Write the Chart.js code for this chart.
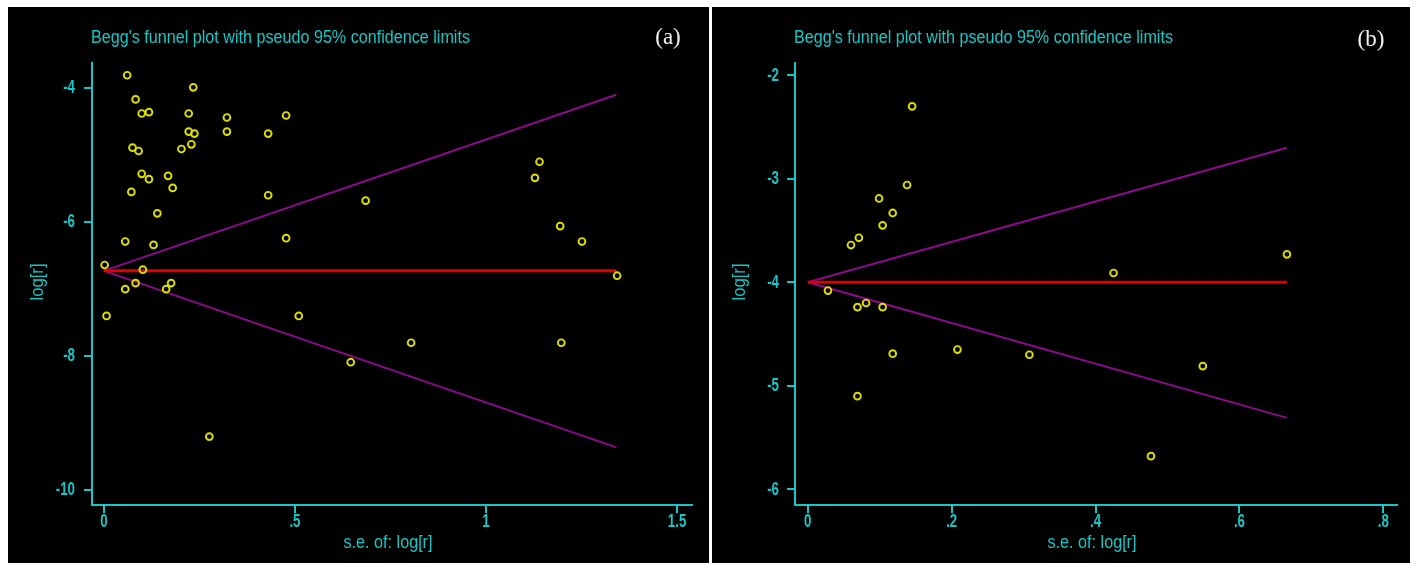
<!DOCTYPE html>
<html>
<head>
<meta charset="utf-8">
<script src="https://cdn.jsdelivr.net/npm/chart.js@4"></script>
<style>
body { margin: 0; background: #fff; width: 1416px; height: 565px; position: relative; overflow: hidden; }
.panel { position: absolute; top: 7px; height: 556px; background: #000; }
#panelA { left: 8px; width: 701px; }
#panelB { left: 712px; width: 698px; }
canvas { display: block; }
</style>
</head>
<body>
<div class="panel" id="panelA"><canvas id="chartA" width="701" height="556"></canvas></div>
<div class="panel" id="panelB"><canvas id="chartB" width="698" height="556"></canvas></div>
<script>
// panel (a) - studies: standard error vs log[r]
const seA = [0.061, 0.234, 0.083, 0.099, 0.118, 0.222, 0.322, 0.477, 0.222, 0.237, 0.322, 0.430,
  0.075, 0.091, 0.229, 0.203, 0.099, 0.118, 0.168, 0.180, 0.072, 0.430, 0.140, 0.056, 0.130, 0.477,
  0.002, 0.102, 0.083, 0.176, 0.056, 0.163, 0.007, 0.510, 0.804, 0.646, 0.276, 0.685, 1.140, 1.128,
  1.194, 1.251, 1.343, 1.197];
const logrA = [-3.81, -3.99, -4.17, -4.38, -4.36, -4.38, -4.44, -4.41, -4.65, -4.68, -4.65, -4.68,
  -4.89, -4.94, -4.84, -4.91, -5.28, -5.36, -5.31, -5.49, -5.55, -5.60, -5.87, -6.29, -6.34, -6.24,
  -6.64, -6.71, -6.91, -6.91, -7.00, -7.00, -7.40, -7.40, -7.80, -8.09, -9.20, -5.68, -5.10, -5.34,
  -6.06, -6.29, -6.80, -7.80];
const limitSeA = [0, 1.341];
const pooledA = [-6.727, -6.727];
const upperA = [-6.727, -4.10];
const lowerA = [-6.727, -9.36];
const xTicksA = [0, 0.5, 1, 1.5];
const xLabelsA = ['0', '.5', '1', '1.5'];
const yTicksA = [-10, -8, -6, -4];
const yLabelsA = ['-10', '-8', '-6', '-4'];

// panel (b)
const seB = [0.145, 0.138, 0.099, 0.118, 0.104, 0.071, 0.060, 0.425, 0.028, 0.081, 0.069, 0.104,
  0.118, 0.208, 0.308, 0.069, 0.666, 0.549, 0.477];
const logrB = [-2.30, -3.06, -3.19, -3.33, -3.45, -3.57, -3.64, -3.91, -4.08, -4.20, -4.24, -4.24,
  -4.69, -4.65, -4.70, -5.10, -3.73, -4.81, -5.68];
const limitSeB = [0, 0.666];
const pooledB = [-4.0, -4.0];
const upperB = [-4.0, -2.70];
const lowerB = [-4.0, -5.31];
const xTicksB = [0, 0.2, 0.4, 0.6, 0.8];
const xLabelsB = ['0', '.2', '.4', '.6', '.8'];
const yTicksB = [-6, -5, -4, -3, -2];
const yLabelsB = ['-6', '-5', '-4', '-3', '-2'];

const titleText = "Begg's funnel plot with pseudo 95% confidence limits";
const xTitle = 's.e. of: log[r]';
const yTitle = 'log[r]';

const CYAN = '#19c6c6';
const SANS = "'Liberation Sans', Arial, sans-serif";

function pts(xs, ys) {
  return xs.map((x, i) => ({ x: x, y: ys[i] }));
}

// stata text is narrow: squeeze to a given width
function fitText(ctx, text, x, y, width, align, rotate) {
  ctx.save();
  ctx.translate(x, y);
  if (rotate) ctx.rotate(-Math.PI / 2);
  let w = ctx.measureText(text).width;
  ctx.scale(width / w, 1);
  ctx.textBaseline = 'middle';
  ctx.textAlign = align;
  ctx.fillText(text, 0, 0);
  ctx.restore();
}

function squeezeText(ctx, text, x, y, sx, align) {
  ctx.save();
  ctx.translate(x, y);
  ctx.scale(sx, 1);
  ctx.textBaseline = 'middle';
  ctx.textAlign = align;
  ctx.fillText(text, 0, 0);
  ctx.restore();
}

function makeChart(id, o) {
  const textPlugin = {
    id: 'stataText',
    afterDraw(chart) {
      const ctx = chart.ctx;
      const a = chart.chartArea;
      const sx = chart.scales.x, sy = chart.scales.y;
      ctx.save();
      ctx.fillStyle = CYAN;
      ctx.font = '18px ' + SANS;
      fitText(ctx, titleText, a.left - 1, 31, 379, 'left');
      fitText(ctx, xTitle, (a.left + a.right) / 2 - 4, 536, 89, 'center');
      fitText(ctx, yTitle, o.yTitleX, (a.top + a.bottom) / 2 - 2, 37, 'center', true);

      // tick labels
      ctx.font = 'bold 19px ' + SANS;
      o.xTicks.forEach((v, i) => {
        squeezeText(ctx, o.xLabels[i], sx.getPixelForValue(v), 515, 0.7, 'center');
      });
      o.yTicks.forEach((v, i) => {
        squeezeText(ctx, o.yLabels[i], a.left - o.yLabelGap, sy.getPixelForValue(v), 0.7, 'right');
      });

      ctx.fillStyle = '#f2f2f2';
      ctx.font = '23px "Liberation Serif", "DejaVu Serif", serif';
      ctx.textAlign = 'center';
      ctx.textBaseline = 'middle';
      ctx.fillText(o.tag, o.tagX, o.tagY);
      ctx.restore();
    }
  };

  return new Chart(document.getElementById(id), {
    type: 'scatter',
    data: {
      datasets: [
        { data: pts(o.se, o.logr), order: 0, pointStyle: 'circle', pointRadius: 3.4,
          pointBorderWidth: 1.9, borderColor: '#dede00', backgroundColor: 'rgba(0,0,0,0)' },
        { data: pts(o.limitSe, o.pooled), showLine: true, order: 1, pointRadius: 0,
          borderColor: '#e00000', borderWidth: 3 },
        { data: pts(o.limitSe, o.upper), showLine: true, order: 2, pointRadius: 0,
          borderColor: '#8c0a8c', borderWidth: 2 },
        { data: pts(o.limitSe, o.lower), showLine: true, order: 2, pointRadius: 0,
          borderColor: '#8c0a8c', borderWidth: 2 }
      ]
    },
    options: {
      responsive: false,
      animation: false,
      layout: { padding: { left: 0, right: o.padRight, top: 56, bottom: 0 } },
      plugins: { legend: { display: false }, tooltip: { enabled: false } },
      scales: {
        x: {
          min: o.xMin, max: o.xMax,
          afterFit: s => { s.height = 58; },
          afterBuildTicks: s => { s.ticks = o.xTicks.map(v => ({ value: v })); },
          border: { display: true, color: CYAN, width: 2 },
          grid: { drawOnChartArea: false, drawTicks: true, tickLength: 8, color: CYAN, lineWidth: 2 },
          ticks: { display: false }
        },
        y: {
          min: o.yMin, max: o.yMax,
          afterFit: s => { s.width = o.yWidth; },
          afterBuildTicks: s => { s.ticks = o.yTicks.map(v => ({ value: v })); },
          border: { display: true, color: CYAN, width: 2 },
          grid: { drawOnChartArea: false, drawTicks: true, tickLength: 8, color: CYAN, lineWidth: 2 },
          ticks: { display: false }
        }
      }
    },
    plugins: [textPlugin]
  });
}

makeChart('chartA', {
  se: seA, logr: logrA, limitSe: limitSeA, pooled: pooledA, upper: upperA, lower: lowerA,
  xTicks: xTicksA, xLabels: xLabelsA, yTicks: yTicksA, yLabels: yLabelsA,
  xMin: -0.031, xMax: 1.539, yMin: -10.22, yMax: -3.627,
  yWidth: 84, padRight: 17, yTitleX: 30, yLabelGap: 17, tag: '(a)', tagX: 660, tagY: 31
});

makeChart('chartB', {
  se: seB, logr: logrB, limitSe: limitSeB, pooled: pooledB, upper: upperB, lower: lowerB,
  xTicks: xTicksB, xLabels: xLabelsB, yTicks: yTicksB, yLabels: yLabelsB,
  xMin: -0.0178, xMax: 0.819, yMin: -6.152, yMax: -1.881,
  yWidth: 83, padRight: 13, yTitleX: 28, yLabelGap: 16, tag: '(b)', tagX: 659, tagY: 33
});
</script>
</body>
</html>
